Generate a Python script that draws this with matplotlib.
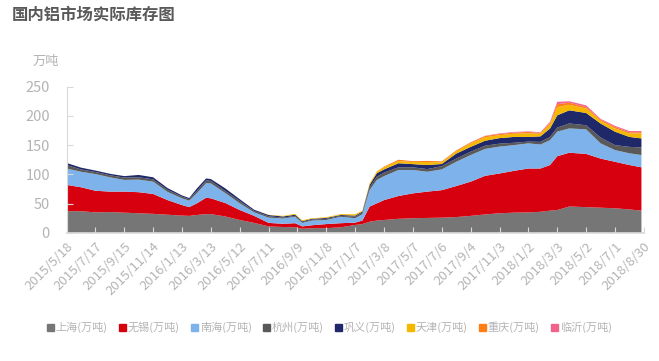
import matplotlib
matplotlib.use("Agg")
import matplotlib.pyplot as plt
from matplotlib.patches import Patch
import pandas as pd

plt.rcParams['font.family'] = ['Noto Sans CJK SC', 'DejaVu Sans']

# days after 2015/5/18 where values were read
days = [0, 30, 60, 90, 120, 150, 180, 210, 240, 255, 270, 290, 300, 330, 360, 390,
        420, 450, 475, 490, 510, 540, 570, 600, 615, 630, 645, 660, 690, 720, 750,
        780, 810, 840, 870, 900, 930, 960, 985, 1005, 1020, 1045, 1080, 1110, 1140,
        1170, 1195]

shanghai = [37, 37, 35, 35.5, 34.5, 33.5, 32.5, 31, 29.5, 29, 30.5, 32, 32, 28, 22, 17,
            11, 10, 9.5, 7, 8, 8, 9.5, 13.5, 15, 19, 21, 22, 24, 25, 25.5,
            26, 27, 29, 31.5, 33.5, 34.5, 35, 36, 38, 39, 45, 44, 43, 42,
            40, 38]
wuxi = [45, 41, 37, 35, 36, 36, 34, 25, 18, 15, 19.5, 28, 27, 23, 17, 12,
        6, 5.5, 7, 4, 5, 7, 7, 4, 6, 26, 29.5, 34, 39, 42.5, 45,
        47, 53, 58.5, 66, 68, 71.5, 75, 74, 78, 92, 92, 91, 84, 79.5,
        76, 74]
nanhai = [28, 26.5, 28.5, 24.5, 20, 21.5, 21, 14, 11.5, 11, 17, 25, 25.5, 17, 11.5, 6,
          9, 9, 11, 6, 8, 7, 11, 7.5, 11, 28, 40, 41, 44.5, 40, 34,
          35.5, 41.5, 45.5, 46, 46, 44, 43, 41, 42.5, 42, 41.5, 42, 26, 20,
          20, 21]
hangzhou = [6, 4, 3.5, 3.5, 4, 4, 4, 3.5, 3, 2.5, 4, 4.5, 4.5, 3.5, 4, 2.5,
            2.5, 1.5, 1.5, 1.5, 1.5, 2, 1.5, 2.8, 2.5, 5, 5.5, 6, 4.5, 4.5, 4.5,
            5.5, 5.5, 5.7, 5.5, 5, 4, 3, 4.5, 5.5, 7, 8.5, 7, 10, 8.5,
            11, 13]
gongyi = [3.5, 3, 2.5, 2.5, 2.5, 4, 3.5, 3, 2, 2, 4, 3.5, 3, 4.5, 3, 2,
          2, 2, 2, 1.5, 1.5, 1.5, 1.5, 1.7, 2, 4, 6, 5.5, 7, 5.5, 7,
          3.7, 8.5, 8.3, 8.5, 9.5, 10, 8, 9.5, 14.5, 21, 22.5, 21, 24, 23,
          17, 15.5]
tianjin = [0, 0, 0, 0, 0, 0, 0, 0, 0, 0, 0, 0, 0, 0, 0, 0,
           0.3, 1, 1.5, 1.5, 1, 1.2, 1.5, 2.3, 1.5, 2.5, 3, 4, 4, 3.5, 5,
           3, 4, 6, 6, 5, 5.5, 6, 4.5, 7, 14, 9.5, 7.5, 4.5, 5.5,
           6, 8.5]
chongqing = [0, 0, 0, 0, 0, 0, 0, 0, 0, 0, 0, 0, 0, 0, 0, 0,
             0, 0, 0, 0, 0, 0, 0, 0, 0, 0, 0, 1, 2, 1.5, 2,
             1.5, 1.5, 1.5, 2, 2, 2, 2.5, 1.5, 2.5, 5, 3.5, 2.5, 2, 2.5,
             2, 2]
linyi = [0, 0, 0, 0, 0, 0, 0, 0, 0, 0, 0, 0, 0, 0, 0, 0,
         0, 0, 0, 0, 0, 0, 0, 0, 0, 0, 0, 0, 0, 0, 0,
         0, 0, 0.5, 0.5, 1, 1, 1, 1, 2, 4, 2.5, 3, 1.5, 2,
         2, 2]

names = ['上海(万吨)', '无锡(万吨)', '南海(万吨)', '杭州(万吨)', '巩义(万吨)',
         '天津(万吨)', '重庆(万吨)', '临沂(万吨)']
colors = ['#767676', '#d7000f', '#7eb2ea', '#595959', '#1f2868',
          '#f5b800', '#ff7f14', '#f0648c']

start = pd.Timestamp('2015-05-18')
dates = [start + pd.Timedelta(days=d) for d in days]
tick_dates = [start + pd.Timedelta(days=60 * i) for i in range(21)]
tick_labels = [f"{t.year}/{t.month}/{t.day}" for t in tick_dates]

fig = plt.figure(figsize=(6.59, 3.61), dpi=100)
ax = fig.add_axes([0.101, 0.355, 0.876, 0.405])

ax.stackplot(dates, shanghai, wuxi, nanhai, hangzhou, gongyi, tianjin, chongqing, linyi,
             colors=colors, linewidth=0)

ax.set_xlim(start, start + pd.Timedelta(days=1200))
ax.set_ylim(0, 250)
ax.set_yticks([0, 50, 100, 150, 200, 250])
ax.set_xticks(tick_dates)
ax.set_xticklabels(tick_labels, rotation=45, ha='right', rotation_mode='anchor')

grey = '#b4b4b4'
ax.tick_params(axis='x', direction='in', colors='#d9d9d9', labelcolor=grey,
               labelsize=9.5, length=4, pad=5)
ax.tick_params(axis='y', direction='in', colors='#d9d9d9', labelcolor=grey,
               labelsize=10.5, length=4, pad=12)
for s in ['top', 'right']:
    ax.spines[s].set_visible(False)
ax.spines['left'].set_color('#d9d9d9')
ax.spines['bottom'].set_color('#d9d9d9')
ax.spines['bottom'].set_linewidth(1.2)

fig.text(0.018, 0.945, '国内铝市场实际库存图', fontsize=11.8, fontweight='bold', color='#595959')
fig.text(0.05, 0.82, '万吨', fontsize=9.5, color=grey)

handles = [Patch(color=c, label=n) for c, n in zip(colors, names)]
fig.legend(handles=handles, loc='center', bbox_to_anchor=(0.5, 0.093), ncol=8,
           frameon=False, fontsize=8, handlelength=0.6, handleheight=0.6,
           handletextpad=0.2, columnspacing=1.0, labelcolor=grey)

fig.savefig('out.png', dpi=100)
